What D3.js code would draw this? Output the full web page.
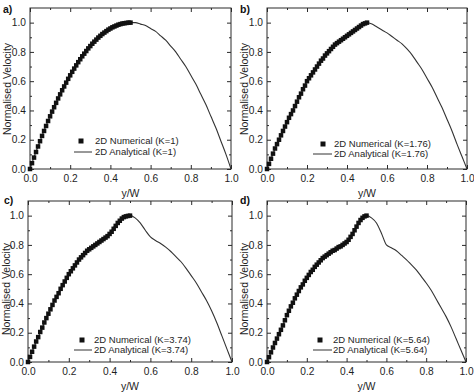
<!DOCTYPE html>
<html><head><meta charset="utf-8">
<script src="https://cdn.jsdelivr.net/npm/d3@7"></script>
<style>
body{margin:0;background:#fff;}
svg{display:block;font-family:"Liberation Sans",Arial,sans-serif;}
</style></head>
<body>
<script>
// Numerical (squares), y/W from 0 to 0.5
const numX = [0,.01,.02,.03,.04,.05,.06,.07,.08,.09,.10,.11,.12,.13,.14,.15,.16,.17,.18,.19,.20,.21,.22,.23,.24,.25,.26,.27,.28,.29,.30,.31,.32,.33,.34,.35,.36,.37,.38,.39,.40,.41,.42,.43,.44,.45,.46,.47,.48,.49,.50];
const numA = [0,.040,.078,.116,.154,.19,.226,.260,.294,.328,.36,.392,.422,.452,.482,.51,.538,.564,.590,.616,.64,.664,.686,.708,.730,.75,.770,.788,.806,.824,.84,.856,.870,.884,.898,.91,.922,.932,.942,.952,.96,.968,.974,.980,.986,.99,.994,.996,.998,1.0,1.0];
const numB = [0,.035,.07,.105,.14,.17,.20,.23,.26,.29,.32,.35,.375,.40,.43,.46,.49,.515,.545,.57,.60,.62,.64,.66,.68,.70,.72,.74,.755,.775,.79,.805,.82,.835,.85,.86,.87,.88,.89,.90,.91,.92,.93,.94,.95,.96,.97,.98,.99,.995,1.0];
const numC = [0,.035,.07,.105,.14,.17,.205,.235,.27,.30,.33,.36,.39,.42,.445,.47,.50,.525,.55,.575,.60,.62,.64,.66,.68,.70,.715,.73,.745,.76,.77,.78,.79,.80,.81,.82,.83,.84,.85,.86,.875,.89,.91,.93,.95,.965,.98,.99,.995,.998,1.0];
const numD = [0,.033,.066,.099,.13,.16,.19,.22,.25,.285,.32,.35,.38,.405,.435,.46,.485,.51,.53,.555,.575,.595,.615,.63,.65,.665,.68,.695,.71,.72,.73,.74,.75,.76,.765,.775,.785,.79,.80,.81,.82,.835,.855,.875,.90,.925,.95,.97,.985,.995,1.0];
// Analytical (line), y/W from 0 to 1
const anaX = [0,.025,.05,.075,.1,.125,.15,.175,.2,.225,.25,.275,.3,.325,.35,.375,.4,.425,.45,.475,.5,.525,.55,.575,.6,.625,.65,.675,.7,.725,.75,.775,.8,.825,.85,.875,.9,.925,.95,.975,1.0];
const anaA = [0,.10,.19,.28,.36,.44,.51,.58,.64,.70,.75,.80,.84,.88,.91,.94,.96,.98,.99,1.0,1.0,1.0,.99,.98,.96,.94,.91,.88,.84,.80,.75,.70,.64,.58,.51,.44,.36,.28,.19,.10,0];
const anaB = [0,.087,.17,.245,.32,.39,.46,.53,.60,.65,.70,.75,.79,.83,.86,.885,.91,.935,.96,.985,1.0,.99,.97,.95,.93,.905,.88,.855,.82,.78,.73,.68,.62,.56,.49,.42,.34,.26,.17,.085,0];
const anaC = [0,.087,.17,.25,.33,.405,.47,.54,.60,.65,.70,.735,.77,.795,.82,.845,.875,.93,.965,.99,1.0,.985,.95,.90,.855,.83,.81,.785,.755,.72,.685,.64,.59,.54,.48,.42,.35,.27,.18,.09,0];
const anaD = [0,.082,.16,.235,.32,.39,.46,.52,.575,.625,.665,.70,.73,.755,.775,.795,.82,.865,.925,.98,1.0,.985,.95,.88,.80,.78,.76,.73,.70,.665,.63,.585,.54,.49,.43,.37,.31,.24,.16,.08,0];

const panelLabels = ["a)","b)","c)","d)"];
const kValues = ["1","1.76","3.74","5.64"];
const xTicks = [0,0.2,0.4,0.6,0.8,1.0];
const yTicks = [0,0.2,0.4,0.6,0.8,1.0];
const xMinor = [0.1,0.3,0.5,0.7,0.9];
const yMinor = [0.1,0.3,0.5,0.7,0.9];
const xTitle = "y/W";
const yTitle = "Normalised Velocity";

const W = 474, H = 392;
const svg = d3.select("body").append("svg").attr("width", W).attr("height", H);

const layouts = [
  {l:30, r:231, t:8, b:169, lab:[3,13], yl:[7,89], xl:193, leg:{mx:81, tx:95, lx:[74,92], y1:141, y2:152}},
  {l:267, r:467, t:8, b:169, lab:[240,13], yl:[244,89], xl:193, leg:{mx:323, tx:334, lx:[313,332], y1:144, y2:154}},
  {l:28, r:232, t:201, b:362, lab:[4,204], yl:[6,289], xl:386, leg:{mx:82, tx:94, lx:[74,92], y1:340, y2:350}},
  {l:267, r:466, t:201, b:362, lab:[240,204], yl:[244,289], xl:386, leg:{mx:320, tx:333, lx:[313,332], y1:340, y2:350}}
];
const numSeries = [numA, numB, numC, numD];
const anaSeries = [anaA, anaB, anaC, anaD];
const fmt = d3.format(".1f");
const ink = "#2a2a2a";
const txt = "#1e1e1e";

layouts.forEach((L, i) => {
  const x = d3.scaleLinear().domain([0, 1]).range([L.l, L.r]);
  const y = d3.scaleLinear().domain([0, 1.1]).range([L.b, L.t]);
  const g = svg.append("g");

  g.append("rect").attr("x", L.l).attr("y", L.t).attr("width", L.r - L.l).attr("height", L.b - L.t)
    .attr("fill", "none").attr("stroke", ink).attr("stroke-width", 1);

  const style = sel => {
    sel.select(".domain").remove();
    sel.selectAll("line").attr("stroke", ink);
    sel.selectAll("text").attr("fill", txt).attr("font-size", 10.2).attr("font-family", '"Liberation Sans",Arial,sans-serif');
  };
  g.append("g").attr("transform", `translate(0,${L.b})`)
    .call(d3.axisBottom(x).tickValues(xTicks).tickSize(-4).tickPadding(6).tickFormat(fmt)).call(style);
  g.append("g").attr("transform", `translate(${L.l},0)`)
    .call(d3.axisLeft(y).tickValues(yTicks).tickSize(-4).tickPadding(4).tickFormat(fmt)).call(style);
  g.append("g").attr("transform", `translate(0,${L.b})`)
    .call(d3.axisBottom(x).tickValues(xMinor).tickSize(-2).tickFormat("")).call(style);
  g.append("g").attr("transform", `translate(${L.l},0)`)
    .call(d3.axisLeft(y).tickValues(yMinor).tickSize(-2).tickFormat("")).call(style);
  g.append("g").attr("transform", `translate(0,${L.t})`)
    .call(d3.axisTop(x).tickValues(xTicks).tickSize(-4).tickFormat("")).call(style);
  g.append("g").attr("transform", `translate(0,${L.t})`)
    .call(d3.axisTop(x).tickValues(xMinor).tickSize(-2).tickFormat("")).call(style);
  g.append("g").attr("transform", `translate(${L.r},0)`)
    .call(d3.axisRight(y).tickValues(yTicks).tickSize(-4).tickFormat("")).call(style);
  g.append("g").attr("transform", `translate(${L.r},0)`)
    .call(d3.axisRight(y).tickValues(yMinor).tickSize(-2).tickFormat("")).call(style);

  const pts = anaX.map((v, j) => [v, anaSeries[i][j]]);
  g.append("path").datum(pts)
    .attr("d", d3.line().x(d => x(d[0])).y(d => y(d[1])).curve(d3.curveMonotoneX))
    .attr("fill", "none").attr("stroke", "#333").attr("stroke-width", 1.1);

  const s = 4.5;
  g.selectAll("rect.pt").data(numX.map((v, j) => [v, numSeries[i][j]])).enter()
    .append("rect").attr("class", "pt")
    .attr("x", d => x(d[0]) - s / 2).attr("y", d => y(d[1]) - s / 2)
    .attr("width", s).attr("height", s).attr("fill", "#111");

  g.append("text").attr("x", (L.l + L.r) / 2).attr("y", L.xl).attr("dy", "0.35em")
    .attr("text-anchor", "middle").attr("font-size", 10.5).attr("fill", txt).text(xTitle);
  g.append("text").attr("transform", `translate(${L.yl[0]},${L.yl[1]}) rotate(-90)`).attr("dy", "0.35em")
    .attr("text-anchor", "middle").attr("font-size", 10.5).attr("fill", txt).text(yTitle);
  g.append("text").attr("x", L.lab[0]).attr("y", L.lab[1]).attr("font-size", 10.5).attr("font-weight", "bold")
    .attr("fill", "#111").text(panelLabels[i]);

  const lg = L.leg;
  g.append("rect").attr("x", lg.mx - 2.5).attr("y", lg.y1 - 2.5).attr("width", 5).attr("height", 5).attr("fill", "#111");
  g.append("text").attr("x", lg.tx).attr("y", lg.y1).attr("dy", "0.35em").attr("font-size", 9.5).attr("fill", txt)
    .text(`2D Numerical (K=${kValues[i]})`);
  g.append("line").attr("x1", lg.lx[0]).attr("x2", lg.lx[1]).attr("y1", lg.y2).attr("y2", lg.y2)
    .attr("stroke", "#333").attr("stroke-width", 1);
  g.append("text").attr("x", lg.tx).attr("y", lg.y2).attr("dy", "0.35em").attr("font-size", 9.5).attr("fill", txt)
    .text(`2D Analytical (K=${kValues[i]})`);
});
</script>
</body></html>
